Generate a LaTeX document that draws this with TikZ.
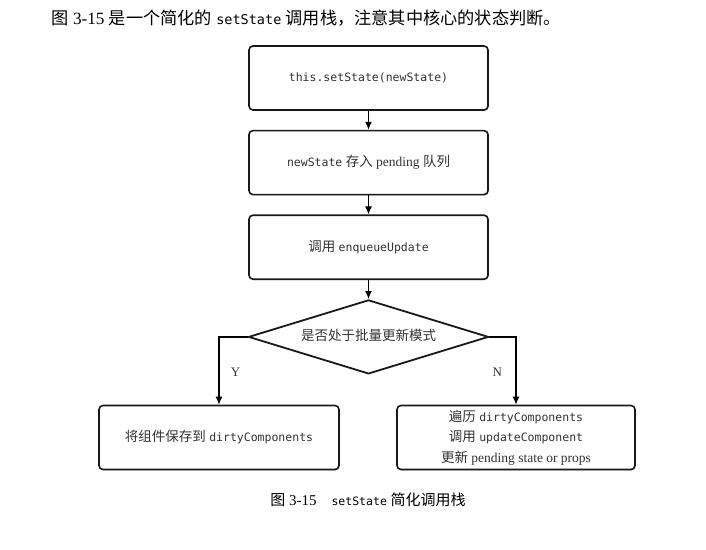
\documentclass[tikz,border=0pt]{standalone}
\usepackage{fontspec}
\setmainfont{Liberation Serif}
\setmonofont{DejaVu Sans Mono}
\newfontfamily\cjk{Noto Sans CJK SC}
\newcommand\code[2]{{\fontsize{#1}{#1}\ttfamily #2}}
\usetikzlibrary{shapes.geometric, arrows, arrows.meta, positioning, shadows}

\begin{document}
\begin{tikzpicture}[x=1pt, y=-1pt, node distance = 19pt and 30pt]
        \tikzstyle{process} = [rectangle, rounded corners=4pt, minimum width=239pt, minimum height=64pt, line width=1.6pt, draw=black!90, fill=white, drop shadow={shadow xshift=1pt, shadow yshift=-1pt, opacity=0.3}, text=black!80, align=center, font=\fontsize{13.5}{20.5}\selectfont]
        \tikzstyle{decision} = [diamond, aspect=3.2, inner sep=0pt, minimum width=240pt, minimum height=74pt, line width=1.8pt, draw=black!90, fill=white, text=black!80, font=\fontsize{13.5}{15}\selectfont]
        \tikzstyle{connect} = [-{Latex[length=8pt, width=7pt]}, line width=1.3pt]
        \tikzstyle{branch} = [font=\fontsize{13}{15}\selectfont, text=black!80]
        \useasboundingbox (0,0) rectangle (706,549);
        % intro line and caption
        \node[anchor=west, font=\fontsize{17.2}{18}\selectfont] (intro) at (48,18) {{\cjk 图} 3-15 {\cjk 是一个简化的} \code{13.5}{setState} {\cjk 调用栈，注意其中核心的状态判断。}};
        \node[font=\fontsize{15}{17}\selectfont] (caption) at (368,500) {{\cjk 图} 3-15\quad\code{11.5}{setState} {\cjk 简化调用栈}};
        % main chain
        \node[process] (call) at (368.5,78) {\code{11.5}{this.setState(newState)}};
        \node[process, below=of call] (queue) {\code{11.5}{newState} {\cjk 存入} pending {\cjk 队列}};
        \node[process, below=of queue] (enqueue) {{\cjk 调用} \code{11.5}{enqueueUpdate}};
        \node[decision, below=of enqueue] (batch) {\raisebox{4pt}{\cjk 是否处于批量更新模式}};
        \node[process, minimum width=240pt] (dirty) at (219,437.5) {{\cjk 将组件保存到} \code{11.5}{dirtyComponents}};
        \node[process, minimum width=238pt] (update) at (516,437.5) {\raisebox{-3pt}{{\cjk 遍历} \code{11.5}{dirtyComponents}}\\\raisebox{-3pt}{{\cjk 调用} \code{11.5}{updateComponent}}\\\raisebox{-3pt}{{\cjk 更新} pending state or props}};
        \path (call) edge [connect] (queue) (queue) edge [connect] (enqueue) (enqueue) edge [connect] (batch);
        \draw[connect] (batch.west) -| node[branch, pos=0.76, right=8pt] {Y} (dirty.north);
        \draw[connect] (batch.east) -| node[branch, pos=0.76, left=10pt] {N} (update.north);
      \end{tikzpicture}
\end{document}
